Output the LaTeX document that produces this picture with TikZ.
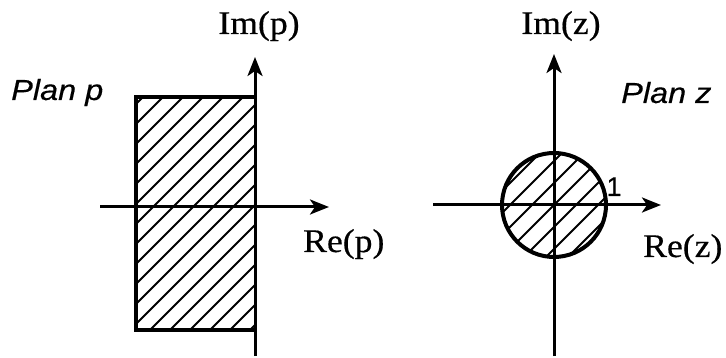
\documentclass[tikz,border=0pt]{standalone}
\usepackage{fontspec}
\setmainfont{Liberation Serif}[FakeBold=0.5]
\newfontfamily\labsans{Liberation Sans}[FakeBold=0.4]
\usetikzlibrary{arrows.meta}
\begin{document}
\begin{tikzpicture}[x=1pt,y=-1pt,
  axis/.style={line width=3pt,-{Stealth[length=19pt,width=15pt,inset=5pt]}},
  hatchline/.style={line width=2pt},
  serlab/.style={font=\fontsize{33}{33}\selectfont,inner sep=0pt,xscale=1.08},
  sanlab/.style={font=\labsans\itshape\fontsize{29}{29}\selectfont,inner sep=0pt,xscale=1.12},
  onelab/.style={font=\labsans\fontsize{27}{27}\selectfont,inner sep=0pt}]
\useasboundingbox (0,0) rectangle (726,358);
% ---------- plan p ----------
\coordinate (pL) at (100,207);
\coordinate (pR) at (329,207);
\coordinate (pB) at (255,356);
\coordinate (pT) at (255,57);
\begin{scope}
  \clip (136,97) rectangle (255,330);
  \foreach \k in {0,...,18} {
    \draw[hatchline] ({240+20*\k-400},400) -- ({240+20*\k},0);
  }
\end{scope}
\draw[line width=3.4pt] (255,97) -- (136,97) -- (136,330) -- (255,330);
\draw[axis] (pL) -- (pR);
\draw[axis] (pB) -- (pT);
\node[serlab,anchor=base] (imp) at (259,34) {Im(p)};
\node[serlab,anchor=base west] (rep) at (303,252) {Re(p)};
\node[sanlab,anchor=base west] (planp) at (11,100) {Plan p};
% ---------- plan z ----------
\coordinate (zC) at (554,205);
\coordinate (zL) at (433,205);
\coordinate (zR) at (661,205);
\coordinate (zB) at (554,356);
\coordinate (zT) at (554,54);
\begin{scope}
  \clip (zC) circle (52);
  \foreach \k in {-6,...,6} {
    \draw[hatchline] ({759+22*\k-300},300) -- ({759+22*\k-100},100);
  }
\end{scope}
\draw[line width=4pt] (zC) circle (52);
\draw[axis] (zL) -- (zR);
\draw[axis] (zB) -- (zT);
\node[serlab,anchor=base] (imz) at (561,34) {Im(z)};
\node[serlab,anchor=base west] (rez) at (643,257) {Re(z)};
\node[sanlab,anchor=base west] (planz) at (621,103) {Plan z};
\node[onelab,anchor=base] (one) at (614,196) {1};
\end{tikzpicture}
\end{document}
